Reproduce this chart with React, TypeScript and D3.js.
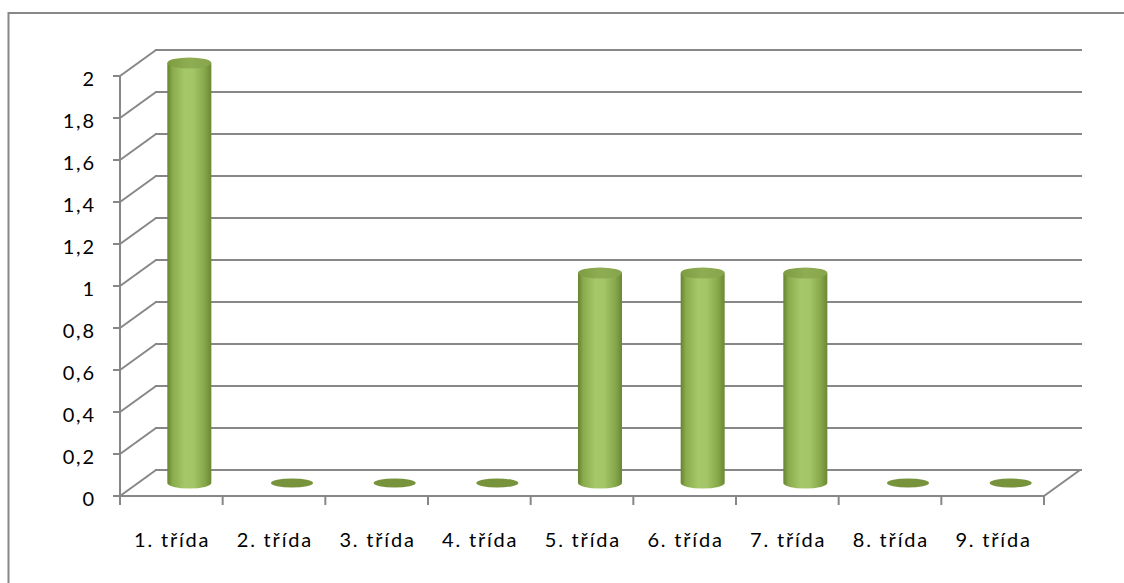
import React from "react";
import * as d3 from "d3";

const categories = ["1. třída", "2. třída", "3. třída", "4. třída", "5. třída", "6. třída", "7. třída", "8. třída", "9. třída"];
const values = [2, 0, 0, 0, 1, 1, 1, 0, 0];
const yTicks = [0, 0.2, 0.4, 0.6, 0.8, 1, 1.2, 1.4, 1.6, 1.8, 2];

const W = 1124;
const H = 583;
const DX = 36; // depth offset to the back wall
const DY = -26;
const GRID = "#878787";
const FONT = "Lato, 'Open Sans', sans-serif";
const FS = 20;
const LS = 1.8;

export default function App() {
  const y = d3.scaleLinear().domain([0, 2]).range([496, 76]);
  const x = d3.scaleBand<string>().domain(categories).range([120, 1044]).paddingInner(0).paddingOuter(0);
  const fmt = (v: number) => String(+v.toFixed(1)).replace(".", ",");
  const rx = 22;
  const ry = 5.5;

  return (
    <svg width={W} height={H} style={{ position: "absolute", left: 0, top: 0 }}>
      <defs>
        <linearGradient id="cyl" x1="0" x2="1" y1="0" y2="0">
          <stop offset="0" stopColor="#66822f" />
          <stop offset="0.12" stopColor="#8aac4c" />
          <stop offset="0.4" stopColor="#a6c86a" />
          <stop offset="0.6" stopColor="#a3c566" />
          <stop offset="0.85" stopColor="#86a84a" />
          <stop offset="1" stopColor="#6a8733" />
        </linearGradient>
        <linearGradient id="cap" x1="0" x2="1" y1="0" y2="0">
          <stop offset="0" stopColor="#7d9c42" />
          <stop offset="0.5" stopColor="#8fae54" />
          <stop offset="1" stopColor="#85a44b" />
        </linearGradient>
      </defs>
      <rect x={0} y={0} width={W} height={H} fill="#fff" />
      {/* chart frame */}
      <rect x={8.5} y={13} width={W + 20} height={H + 20} fill="none" stroke="#888" strokeWidth={2} />

      {/* back wall gridlines, side wall diagonals, value axis */}
      {yTicks.map((t) => (
        <g key={t}>
          <line x1={120} y1={y(t)} x2={120 + DX} y2={y(t) + DY} stroke={GRID} strokeWidth={2} />
          <line x1={120 + DX - 1} y1={y(t) + DY} x2={1044 + DX + 2} y2={y(t) + DY} stroke={GRID} strokeWidth={2} />
          <line x1={113} y1={y(t)} x2={120} y2={y(t)} stroke={GRID} strokeWidth={2} />
          <text
            x={94 + LS}
            y={y(t) + 9.5}
            textAnchor="end"
            fontFamily={FONT}
            fontSize={FS}
            letterSpacing={LS}
            fill="#000"
          >
            {fmt(t)}
          </text>
        </g>
      ))}

      {/* floor */}
      <line x1={1044} y1={y(0)} x2={1044 + DX} y2={y(0) + DY} stroke={GRID} strokeWidth={2} />
      <line x1={119} y1={y(0)} x2={1045} y2={y(0)} stroke={GRID} strokeWidth={2} />
      <line x1={120} y1={y(2) - 1} x2={120} y2={y(0) + 1} stroke={GRID} strokeWidth={2} />
      {d3.range(categories.length + 1).map((i) => {
        const xx = 120 + i * x.bandwidth();
        return <line key={i} x1={xx} y1={y(0)} x2={xx} y2={y(0) + 9} stroke={GRID} strokeWidth={2} />;
      })}

      {/* cylinders */}
      {categories.map((c, i) => {
        const cx = (x(c) as number) + x.bandwidth() / 2 + DX / 2;
        const yb = y(0) + DY / 2;
        const yt = y(values[i]) + DY / 2;
        if (values[i] === 0) {
          return <ellipse key={c} cx={cx} cy={yb} rx={21} ry={4.5} fill="#77933c" />;
        }
        const body = `M${cx - rx},${yt} L${cx - rx},${yb} A${rx},${ry} 0 0 0 ${cx + rx},${yb} L${cx + rx},${yt} Z`;
        return (
          <g key={c}>
            <path d={body} fill="url(#cyl)" />
            <ellipse cx={cx} cy={yt} rx={rx} ry={ry} fill="url(#cap)" />
          </g>
        );
      })}

      {/* category labels */}
      {categories.map((c) => (
        <text
          key={c}
          x={(x(c) as number) + x.bandwidth() / 2 + LS / 2}
          y={547}
          textAnchor="middle"
          fontFamily={FONT}
          fontSize={FS}
          letterSpacing={LS}
          fill="#000"
        >
          {c}
        </text>
      ))}
    </svg>
  );
}
